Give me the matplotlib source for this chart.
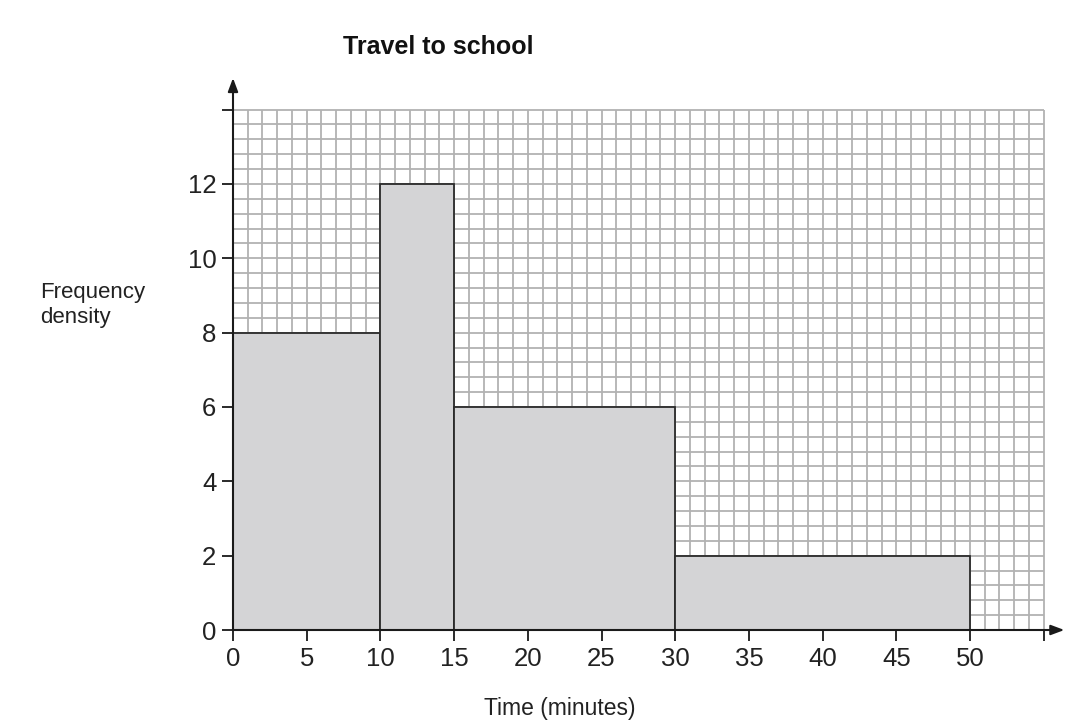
import numpy as np
import matplotlib
matplotlib.use('Agg')
import matplotlib.pyplot as plt

# class boundaries (minutes) and frequency density
edges = [0, 10, 15, 30, 50]
density = [8, 12, 6, 2]
xticks = [0, 5, 10, 15, 20, 25, 30, 35, 40, 45, 50, 55]
xlabels = ['0', '5', '10', '15', '20', '25', '30', '35', '40', '45', '50', '']
yticks = [0, 2, 4, 6, 8, 10, 12, 14]
ylabels = ['0', '2', '4', '6', '8', '10', '12', '']

plt.rcParams['font.family'] = ['Liberation Sans', 'DejaVu Sans']

W, H = 1068, 727
fig = plt.figure(figsize=(W / 100, H / 100), dpi=100)

# pixel layout: x=0 at 233px, 14.74 px/min ; y=0 at 630px, 37.17 px/unit
x0, pxm = 233, 14.74
y0, pyu = 630, 37.17
xmax, ymax = 56.5, 15.2
ax = fig.add_axes([x0 / W, (H - y0) / H, xmax * pxm / W, ymax * pyu / H])
ax.set_xlim(0, xmax)
ax.set_ylim(0, ymax)
for s in ax.spines.values():
    s.set_visible(False)

gcol = '#b2b2b2'
ax.vlines(np.arange(0, 56), 0, 14, color=gcol, lw=1.3, zorder=1)
ax.hlines(np.arange(0, 14.01, 0.4), 0, 55, color=gcol, lw=1.3, zorder=1)

widths = np.diff(edges)
ax.bar(edges[:-1], density, width=widths, align='edge',
       color='#d4d4d6', edgecolor='#2a2a2a', linewidth=1.3, zorder=2)

# axes with arrows
ax.annotate('', xy=(0, 14.85), xytext=(0, 0), annotation_clip=False,
            arrowprops=dict(arrowstyle='-|>,head_length=0.8,head_width=0.3',
                            color='#1a1a1a', lw=1.5, shrinkA=0, shrinkB=0), zorder=4)
ax.annotate('', xy=(56.4, 0), xytext=(0, 0), annotation_clip=False,
            arrowprops=dict(arrowstyle='-|>,head_length=0.8,head_width=0.3',
                            color='#1a1a1a', lw=1.5, shrinkA=0, shrinkB=0), zorder=4)

ax.set_xticks(xticks)
ax.set_xticklabels(xlabels)
ax.set_yticks(yticks)
ax.set_yticklabels(ylabels)
ax.tick_params(axis='both', length=8, width=1.4, color='#2a2a2a',
               labelsize=18.5, labelcolor='#222222', pad=4)

fig.text(438 / W, 1 - 47 / H, 'Travel to school', ha='center', va='center',
         fontsize=18, fontweight='bold', color='#111111')
fig.text(560 / W, 1 - 708 / H, 'Time (minutes)', ha='center', va='center',
         fontsize=16.5, color='#222222')
fig.text(40 / W, 1 - 305 / H, 'Frequency\ndensity', ha='left', va='center',
         fontsize=16, color='#222222', linespacing=1.25)

fig.savefig('out.png', dpi=100)
